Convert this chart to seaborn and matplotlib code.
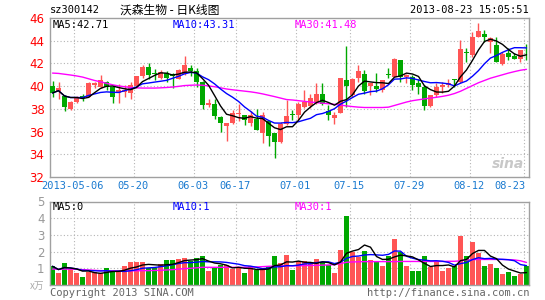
import numpy as np
import pandas as pd
import matplotlib
matplotlib.use("Agg")
import matplotlib.pyplot as plt
import seaborn as sns

sns.set_style("white")
plt.rcParams["font.family"] = ["DejaVu Sans Mono", "Noto Sans CJK SC"]

# ---------------- data ----------------
opens = [40.0, 39.6, 39.1, 38.0, 38.6, 39.15, 39.05, 40.1, 39.9, 40.35,
         39.95, 39.4, 39.5, 39.4, 40.0, 40.85, 41.7, 41.2, 40.75, 41.2,
         41.1, 40.65, 41.07, 41.63, 41.36, 40.39, 38.35, 38.46, 37.27, 36.53,
         36.77, 37.57, 37.5, 36.74, 37.1, 35.85, 36.97, 35.85, 35.04, 36.68,
         37.55, 37.45, 38.16, 38.22, 38.6, 39.29, 37.78, 37.19, 37.63, 40.53,
         39.2, 40.68, 41.07, 40.0, 40.0, 39.7, 41.1, 40.83, 42.31, 40.77,
         40.81, 40.31, 39.93, 38.24, 39.24, 39.93, 40.07, 40.64, 40.37, 43.0,
         42.74, 44.37, 44.61, 43.93, 43.63, 41.94, 42.89, 42.65, 42.39, 42.85]
highs = [40.47, 40.4, 39.2, 38.7, 39.1, 39.3, 40.35, 40.4, 41.0, 40.45,
         40.0, 40.2, 40.1, 40.4, 40.9, 41.9, 42.0, 41.5, 41.45, 41.3,
         41.15, 41.5, 42.67, 41.87, 41.57, 40.45, 38.9, 38.9, 37.4, 36.74,
         37.86, 38.46, 37.5, 37.8, 38.0, 37.7, 36.97, 35.85, 36.8, 38.8,
         37.87, 38.6, 39.64, 39.3, 40.24, 40.24, 38.3, 37.7, 40.68, 43.5,
         40.68, 41.87, 41.42, 40.3, 41.13, 40.53, 41.57, 42.46, 42.31, 41.07,
         40.96, 40.67, 40.13, 39.24, 40.31, 40.37, 40.67, 40.67, 44.07, 43.33,
         44.81, 45.56, 44.96, 44.37, 44.37, 43.04, 43.33, 42.89, 43.19, 43.7]
lows = [39.05, 38.9, 37.8, 37.9, 38.5, 38.7, 39.0, 39.8, 39.8, 39.7,
        38.5, 38.5, 39.05, 38.9, 39.95, 40.7, 40.6, 40.5, 40.6, 40.4,
        39.85, 40.6, 41.0, 40.9, 39.94, 38.0, 38.15, 37.1, 35.93, 35.2,
        36.7, 36.97, 36.6, 36.5, 36.1, 34.96, 34.75, 33.65, 34.95, 36.6,
        37.0, 37.0, 38.1, 38.1, 38.46, 38.3, 36.98, 36.68, 37.6, 38.16,
        39.05, 40.39, 39.35, 39.2, 39.5, 39.5, 40.68, 40.77, 40.39, 40.24,
        39.63, 39.33, 37.94, 38.15, 39.04, 39.42, 39.93, 39.93, 40.3, 42.15,
        42.6, 44.31, 43.87, 42.89, 42.15, 41.85, 42.3, 42.36, 42.15, 42.3]
closes = [39.4, 39.8, 38.2, 38.6, 39.0, 38.95, 40.3, 40.25, 40.5, 39.95,
          39.05, 39.65, 39.7, 40.1, 40.9, 41.65, 41.0, 41.05, 41.25, 40.75,
          40.85, 41.4, 41.87, 41.36, 40.39, 38.3, 38.5, 37.36, 36.74, 36.74,
          37.63, 37.66, 37.06, 37.48, 36.1, 37.42, 35.64, 35.04, 36.68, 37.33,
          37.45, 38.46, 38.61, 38.96, 39.29, 38.46, 37.48, 37.42, 40.68, 40.03,
          40.6, 41.33, 39.59, 40.3, 39.73, 40.53, 41.0, 42.4, 40.83, 40.98,
          40.13, 39.93, 38.24, 39.19, 39.93, 40.07, 40.31, 40.55, 43.24, 42.95,
          44.31, 44.87, 44.31, 44.22, 42.15, 42.83, 42.6, 42.39, 43.19, 42.8]
ma30 = [41.15, 41.12, 41.05, 40.98, 40.9, 40.8, 40.65, 40.5, 40.38, 40.25,
        40.12, 40.02, 39.95, 39.88, 39.85, 39.83, 39.83, 39.83, 39.85, 39.88,
        39.92, 39.98, 40.05, 40.08, 40.1, 40.08, 40.02, 39.95, 39.85, 39.75,
        39.68, 39.62, 39.56, 39.5, 39.42, 39.32, 39.2, 39.08, 38.95, 38.82,
        38.78, 38.72, 38.66, 38.6, 38.55, 38.5, 38.45, 38.4, 38.33, 38.26,
        38.2, 38.15, 38.12, 38.12, 38.12, 38.12, 38.15, 38.3, 38.45, 38.6,
        38.72, 38.8, 38.88, 38.95, 39.02, 39.1, 39.2, 39.35, 39.55, 39.8,
        40.05, 40.3, 40.5, 40.7, 40.85, 41.0, 41.15, 41.28, 41.4, 41.48]
volumes = [1.12, 0.73, 1.29, 0.94, 0.73, 0.47, 0.78, 0.78, 0.73, 1.0,
           0.75, 0.82, 1.12, 1.35, 1.35, 1.35, 1.0, 1.0, 1.24, 1.47,
           1.47, 1.53, 1.59, 1.41, 1.59, 1.76, 0.82, 1.0, 1.18, 1.18,
           0.94, 1.0, 0.71, 1.12, 0.88, 0.94, 1.12, 1.76, 1.29, 1.82,
           0.88, 1.41, 1.41, 1.24, 1.53, 1.35, 1.18, 0.71, 2.12, 4.14,
           2.0, 1.65, 2.06, 1.47, 1.35, 1.12, 1.71, 2.76, 2.0, 1.12,
           0.82, 0.82, 1.71, 1.06, 1.41, 0.82, 1.0, 1.12, 2.94, 1.76,
           2.59, 1.94, 1.12, 1.24, 1.0, 0.65, 0.76, 0.53, 0.65, 1.12]
vol_ma30 = [0.95, 0.95, 0.95, 0.95, 0.94, 0.92, 0.9, 0.88, 0.86, 0.85,
            0.85, 0.85, 0.85, 0.85, 0.85, 0.86, 0.86, 0.87, 0.88, 0.9,
            0.92, 0.95, 0.98, 1.0, 1.03, 1.06, 1.06, 1.06, 1.06, 1.06,
            1.06, 1.06, 1.06, 1.07, 1.08, 1.1, 1.12, 1.13, 1.14, 1.15,
            1.15, 1.15, 1.16, 1.17, 1.18, 1.19, 1.2, 1.22, 1.28, 1.36,
            1.38, 1.39, 1.4, 1.4, 1.4, 1.4, 1.4, 1.4, 1.41, 1.41,
            1.41, 1.41, 1.41, 1.41, 1.41, 1.41, 1.42, 1.42, 1.45, 1.5,
            1.52, 1.53, 1.53, 1.53, 1.53, 1.53, 1.52, 1.5, 1.45, 1.35]
date_ticks = [4, 14, 24, 31, 41, 50, 60, 70, 79]
date_labels = ["2013-05-06", "05-20", "06-03", "06-17", "07-01",
               "07-15", "07-29", "08-12", "08-23"]
price_ticks = [32, 34, 36, 38, 40, 42, 44, 46]
vol_ticks = [1, 2, 3, 4, 5]

# ---------------- derived frame ----------------
df = pd.DataFrame({"i": np.arange(len(closes)), "open": opens, "high": highs,
                   "low": lows, "close": closes, "ma30": ma30,
                   "vol": volumes, "vma30": vol_ma30})
df["ma5"] = df["close"].rolling(5, min_periods=1).mean()
df["ma10"] = df["close"].rolling(10, min_periods=1).mean()
df["vma5"] = df["vol"].rolling(5, min_periods=1).mean()
df["vma10"] = df["vol"].rolling(10, min_periods=1).mean()
up = df["close"] >= df["open"]
RED, GREEN = "#ff5555", "#00a800"
df["col"] = np.where(up, RED, GREEN)

W, H = 545, 300
fig = plt.figure(figsize=(W / 100, H / 100), dpi=100)
fig.patch.set_facecolor("white")
ax1 = fig.add_axes([50 / W, 1 - 177 / H, 479 / W, 159 / H])
ax2 = fig.add_axes([50 / W, 1 - 285 / H, 479 / W, 83.5 / H])

grid_kw = dict(color="#b4b4b4", linestyle=(0, (1, 2)), linewidth=0.8)
for ax in (ax1, ax2):
    ax.set_xlim(-0.42, 79.42)
    for s in ax.spines.values():
        s.set_color("#a0a0a0")
        s.set_linewidth(1.0)
    ax.tick_params(length=0)
    for t in date_ticks:
        ax.axvline(t - 0.35, zorder=0, **grid_kw)

# price panel
ax1.set_ylim(32, 46)
for p in price_ticks[1:-1]:
    ax1.axhline(p, zorder=0, **grid_kw)
ax1.vlines(df["i"], df["low"], df["high"], colors=df["col"], linewidth=1.0, zorder=2)
body_lo = np.minimum(df["open"], df["close"])
body_h = np.maximum(np.abs(df["close"] - df["open"]), 0.07)
ax1.bar(df["i"], body_h, bottom=body_lo, width=0.8, color=df["col"], linewidth=0, zorder=3)
sns.lineplot(data=df, x="i", y="ma30", ax=ax1, color="#ff00ff", linewidth=1.0, zorder=4, legend=False)
sns.lineplot(data=df, x="i", y="ma10", ax=ax1, color="#0000ff", linewidth=1.0, zorder=5, legend=False)
sns.lineplot(data=df, x="i", y="ma5", ax=ax1, color="#000000", linewidth=1.0, zorder=6, legend=False)
ax1.set_yticks(price_ticks)
ax1.set_yticklabels([str(p) for p in price_ticks], color="#ff0000", fontsize=8.5,
                    family=["DejaVu Sans"])
ax1.tick_params(axis="y", pad=4)
# date labels: all but the last are centred ticks; the last is right-aligned
ax1.set_xticks([t - 0.6 for t in date_ticks[:-1]])
ax1.set_xticklabels(date_labels[:-1], color="#1a7ad0", fontsize=7.5)
ax1.tick_params(axis="x", pad=3)
ax1.text(date_ticks[-1] - 0.1, -0.028, date_labels[-1], transform=ax1.get_xaxis_transform(),
         ha="right", va="top", color="#1a7ad0", fontsize=7.5)
ax1.set_xlabel("")
ax1.set_ylabel("")

# volume panel
ax2.set_ylim(0, 4.95)
for v in vol_ticks[:-1]:
    ax2.axhline(v, zorder=0, **grid_kw)
ax2.bar(df["i"], df["vol"], width=0.8, color=df["col"], linewidth=0, zorder=2)
sns.lineplot(data=df, x="i", y="vma30", ax=ax2, color="#ff00ff", linewidth=1.0, zorder=4, legend=False)
sns.lineplot(data=df, x="i", y="vma10", ax=ax2, color="#0000ff", linewidth=1.0, zorder=5, legend=False)
sns.lineplot(data=df, x="i", y="vma5", ax=ax2, color="#000000", linewidth=1.0, zorder=6, legend=False)
ax2.set_yticks(vol_ticks)
ax2.set_yticklabels([str(v) for v in vol_ticks], color="#999999", fontsize=8.5,
                    family=["DejaVu Sans"])
ax2.tick_params(axis="y", pad=4)
ax2.set_xticks([])
ax2.set_xlabel("")
ax2.set_ylabel("")

def ftext(x, y, s, **kw):
    fig.text(x / W, 1 - y / H, s, va="center", **kw)

ftext(50, 10, "sz300142", fontsize=7.5, color="#000000")
ftext(120, 10, "沃森生物 - 日K线图", fontsize=8.5, color="#000000",
      family=["Noto Sans CJK SC", "DejaVu Sans"])
ftext(529, 10, "2013-08-23 15:05:51", fontsize=7.5, color="#000000", ha="right")
ftext(53, 25, "MA5:42.71", fontsize=7.5, color="#000000")
ftext(173, 25, "MA10:43.31", fontsize=7.5, color="#0000ff")
ftext(295, 25, "MA30:41.48", fontsize=7.5, color="#ff00ff")
ftext(53, 207, "MA5:0", fontsize=7.5, color="#000000")
ftext(173, 207, "MA10:1", fontsize=7.5, color="#0000ff")
ftext(295, 207, "MA30:1", fontsize=7.5, color="#ff00ff")
ftext(44, 286, "x万", fontsize=7, color="#aaaaaa", ha="right",
      family=["Noto Sans CJK SC", "DejaVu Sans"], style="italic")
ftext(50, 293, "Copyright 2013 SINA.COM", fontsize=7.5, color="#666666")
ftext(529, 293, "http://finance.sina.com.cn", fontsize=7.5, color="#666666", ha="right")
ftext(508, 164, "sina", fontsize=10, color="#c8c8c8", ha="center",
      family=["DejaVu Sans"], style="italic", weight="bold")

fig.savefig("out.png", dpi=100, facecolor="white")
